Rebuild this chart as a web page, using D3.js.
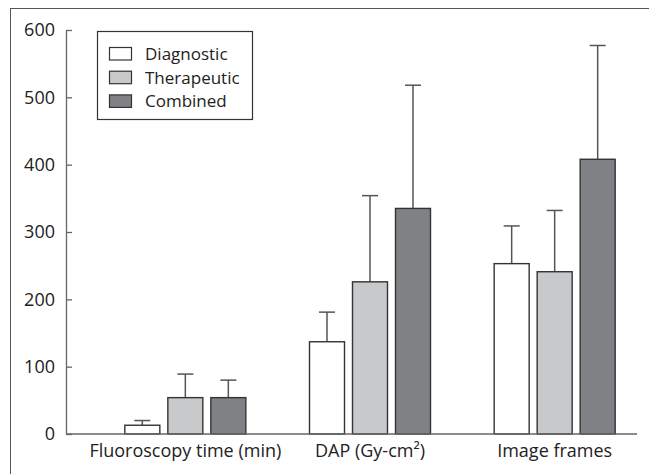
<!DOCTYPE html>
<html>
<head>
<meta charset="utf-8">
<script src="https://cdn.jsdelivr.net/npm/d3@7"></script>
<style>
  html, body { margin: 0; padding: 0; background: #fff; }
  svg { display: block; }
  text { font-family: "Open Sans", "Noto Sans", sans-serif; fill: #222; }
</style>
</head>
<body>
<svg id="chart" width="649" height="474"></svg>
<script>
const categories = ["Fluoroscopy time (min)", "DAP (Gy-cm²)", "Image frames"];
const seriesNames = ["Diagnostic", "Therapeutic", "Combined"];
const seriesColors = ["#ffffff", "#c8c9cb", "#808185"];
const diagnosticMean = [13, 137, 253];
const diagnosticErr = [20, 181, 309];
const therapeuticMean = [54, 226, 241];
const therapeuticErr = [89, 354, 332];
const combinedMean = [54, 335, 408];
const combinedErr = [80, 518, 577];
const yTicks = [0, 100, 200, 300, 400, 500, 600];

const means = [diagnosticMean, therapeuticMean, combinedMean];
const errs = [diagnosticErr, therapeuticErr, combinedErr];

const svg = d3.select("#chart");

// outer frame (top and left edges visible)
svg.append("line").attr("x1", 10).attr("y1", 8.5).attr("x2", 649).attr("y2", 8.5)
  .attr("stroke", "#555").attr("stroke-width", 1);
svg.append("line").attr("x1", 10.5).attr("y1", 8).attr("x2", 10.5).attr("y2", 474)
  .attr("stroke", "#555").attr("stroke-width", 1);

const y = d3.scaleLinear().domain([0, 600]).range([434, 30]);
const x0 = d3.scaleBand().domain(categories).range([93, 647]).padding(0);
const x1 = d3.scaleBand().domain(seriesNames).range([-60.5, 60.5]).paddingInner(8 / 43).paddingOuter(0);

const data = [];
categories.forEach((c, ci) => {
  seriesNames.forEach((s, si) => {
    data.push({ cat: c, ser: s, si, mean: means[si][ci], err: errs[si][ci] });
  });
});

// error bars (drawn behind bars)
const cx = d => x0(d.cat) + x0.bandwidth() / 2 + x1(d.ser) + x1.bandwidth() / 2;
const eb = svg.append("g");
eb.selectAll("line.v").data(data).join("line")
  .attr("x1", cx).attr("x2", cx)
  .attr("y1", d => y(d.mean)).attr("y2", d => y(d.err))
  .attr("stroke", "#555").attr("stroke-width", 1.5);
eb.selectAll("line.c").data(data).join("line")
  .attr("x1", d => cx(d) - 8).attr("x2", d => cx(d) + 8)
  .attr("y1", d => y(d.err)).attr("y2", d => y(d.err))
  .attr("stroke", "#555").attr("stroke-width", 1.5);

// bars
svg.append("g").selectAll("rect").data(data).join("rect")
  .attr("x", d => x0(d.cat) + x0.bandwidth() / 2 + x1(d.ser))
  .attr("width", x1.bandwidth())
  .attr("y", d => y(d.mean))
  .attr("height", d => y(0) - y(d.mean))
  .attr("fill", d => seriesColors[d.si])
  .attr("stroke", "#333").attr("stroke-width", 1.4);

// y axis
const yAxis = svg.append("g").attr("transform", "translate(66,0)")
  .call(d3.axisLeft(y).tickValues(yTicks).tickSize(-6).tickPadding(11).tickSizeOuter(0));
yAxis.select(".domain").attr("stroke", "#666").attr("stroke-width", 1.3);
yAxis.selectAll(".tick line").attr("stroke", "#666").attr("stroke-width", 1.3);
yAxis.selectAll(".tick text").style("font-size", "18px").attr("fill", "#222");

// x axis
const xAxis = svg.append("g").attr("transform", "translate(0,434)")
  .call(d3.axisBottom(x0).tickSize(0).tickPadding(10));
xAxis.select(".domain").attr("d", "M66,0H637").attr("stroke", "#666").attr("stroke-width", 1.3);
xAxis.selectAll(".tick text").style("font-size", "18px").attr("fill", "#222");

// legend
const lg = svg.append("g");
lg.append("rect").attr("x", 97.5).attr("y", 31.5).attr("width", 155).attr("height", 88)
  .attr("fill", "#fff").attr("stroke", "#333").attr("stroke-width", 1.2);
seriesNames.forEach((s, i) => {
  lg.append("rect").attr("x", 109.5).attr("y", 47.5 + i * 23.7).attr("width", 22).attr("height", 12.5)
    .attr("fill", seriesColors[i]).attr("stroke", "#333").attr("stroke-width", 1.2);
  lg.append("text").attr("x", 145).attr("y", 60 + i * 23.7).style("font-size", "17px").text(s);
});
</script>
</body>
</html>
